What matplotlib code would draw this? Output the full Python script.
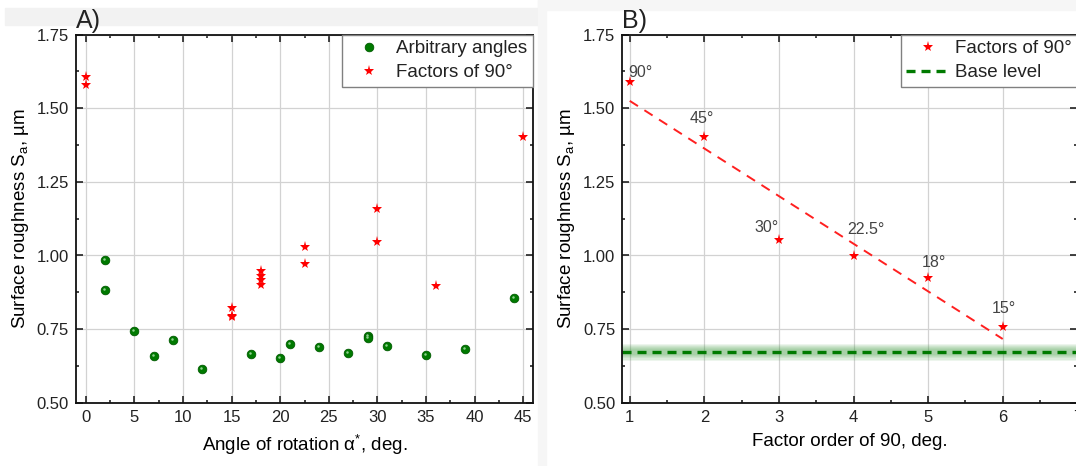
import numpy as np
import matplotlib.pyplot as plt
import matplotlib
from matplotlib.patches import Rectangle
from matplotlib.ticker import MultipleLocator, FormatStrFormatter
from matplotlib.transforms import offset_copy

matplotlib.rcParams.update({
    'font.family': ['Liberation Sans', 'DejaVu Sans'],
    'mathtext.fontset': 'custom',
    'mathtext.rm': 'Liberation Sans',
    'mathtext.it': 'Liberation Sans:italic',
    'lines.scale_dashes': False,
    'text.color': '#222222',
})

# A) arbitrary rotation angles
arb_angle = [2, 2, 5, 7, 9, 12, 17, 20, 21, 24, 27, 29, 29, 31, 35, 39, 44]
arb_sa = [0.984, 0.883, 0.745, 0.660, 0.713, 0.615, 0.666, 0.652, 0.701,
          0.688, 0.670, 0.728, 0.719, 0.691, 0.662, 0.683, 0.856]

# A) rotation angles that are factors of 90 deg
fac_angle = [0, 0, 15, 15, 15, 18, 18, 18, 18, 22.5, 22.5, 30, 30, 36, 45]
fac_sa = [1.605, 1.578, 0.821, 0.796, 0.791, 0.947, 0.930, 0.916, 0.900,
          1.028, 0.972, 1.157, 1.047, 0.898, 1.404]

# B) roughness vs factor order
order = [1, 2, 3, 4, 5, 6]
order_sa = [1.590, 1.404, 1.052, 0.999, 0.923, 0.757]
order_lbl = ['90°', '45°', '30°', '22.5°', '18°', '15°']
lbl_off = [(8, 7), (-2, 13), (-9, 9), (9, 19), (4, 11), (1, 13)]  # points

base_level = 0.672
base_spread = 0.029

W, H = 1076, 466
fig = plt.figure(figsize=(W / 100, H / 100), dpi=100)

# light page background behind the panel headers
fig.patches.append(Rectangle((5 / W, 1 - 25 / H), 535 / W, 17 / H, transform=fig.transFigure,
                             color='#f2f2f2', zorder=-10))
fig.patches.append(Rectangle((538 / W, 0), 8 / W, 1, transform=fig.transFigure,
                             color='#f6f6f6', zorder=-10))
fig.patches.append(Rectangle((538 / W, 1 - 10 / H), 1, 10 / H, transform=fig.transFigure,
                             color='#f6f6f6', zorder=-10))

ax1 = fig.add_axes([76 / W, 63.3 / H, 457 / W, 368 / H])
ax2 = fig.add_axes([622.3 / W, 63.3 / H, 455 / W, 368 / H])


def style_axis(ax, xlim, xmaj, xmin):
    ax.set_xlim(*xlim)
    ax.set_ylim(0.5, 1.75)
    ax.xaxis.set_major_locator(MultipleLocator(xmaj))
    ax.xaxis.set_minor_locator(MultipleLocator(xmin))
    ax.yaxis.set_major_locator(MultipleLocator(0.25))
    ax.yaxis.set_minor_locator(MultipleLocator(0.125))
    ax.yaxis.set_major_formatter(FormatStrFormatter('%.2f'))
    ax.tick_params(which='both', direction='in', top=True, right=True,
                   width=1.1, color='#111111', labelsize=12, labelcolor='#222222')
    ax.tick_params(which='major', length=4.7)
    ax.tick_params(which='minor', length=2.4)
    ax.tick_params(axis='x', pad=5)
    ax.tick_params(axis='y', pad=5)
    ax.grid(True, which='major', color='#d2d2d2', lw=0.9)
    ax.set_axisbelow(True)
    for s in ax.spines.values():
        s.set_linewidth(1.3)
        s.set_color('#111111')
    ax.set_ylabel('Surface roughness S$_{\\mathrm{a}}$, µm', fontsize=13.5, labelpad=4)


def legend(ax, **kw):
    leg = ax.legend(loc='upper right', fontsize=13.5, borderaxespad=0, fancybox=False,
                    framealpha=1, edgecolor='#808080', handlelength=2.3, handletextpad=0.3,
                    borderpad=0.3, labelspacing=0.36, **kw)
    leg.get_frame().set_linewidth(1.0)
    return leg


# ---- A) ----
style_axis(ax1, (-1, 46), 5, 2.5)
ax1.plot(arb_angle, arb_sa, 'o', ms=6.2, color='#007a00', mec='#005a00', mew=0.6,
         label='Arbitrary angles', zorder=3)
hl = offset_copy(ax1.transData, fig=fig, x=-1.0, y=1.0, units='dots')
ax1.plot(arb_angle, arb_sa, 'o', ms=1.8, color='#8fd08f', mew=0, transform=hl, zorder=4)
ax1.plot(fac_angle, fac_sa, '*', ms=8, color='#ff0000', mew=0,
         label='Factors of 90°', zorder=3)
ax1.set_xlabel('Angle of rotation α$^{*}$, deg.', fontsize=13.5, labelpad=6)
legend(ax1)
ax1.text(0.0, 1.018, 'A)', transform=ax1.transAxes, fontsize=18, va='baseline', ha='left')

# ---- B) ----
style_axis(ax2, (0.9, 7.0), 1, 0.5)
for k in range(6):
    ax2.axhspan(base_level - base_spread * (1 - k / 8), base_level + base_spread * (1 - k / 8),
                color='#3a9a3a', alpha=0.09, lw=0, zorder=1)
ax2.axhline(base_level, color='#007a00', lw=2.4, dashes=(6.5, 4.3), label='Base level', zorder=2)

k, b = np.polyfit(order, order_sa, 1)
xf = np.array([order[0], order[-1]])
ax2.plot(xf, k * xf + b, color='#ff2020', lw=1.4, dashes=(7, 5.5), zorder=2)

ax2.plot(order, order_sa, '*', ms=8, color='#ff0000', mew=0, label='Factors of 90°', zorder=3)
for xv, yv, t, off in zip(order, order_sa, order_lbl, lbl_off):
    ax2.annotate(t, (xv, yv), xytext=off, textcoords='offset points', ha='center',
                 va='center', fontsize=11.5, color='#444444')
ax2.set_xlabel('Factor order of 90, deg.', fontsize=13.5, labelpad=6)
h, l = ax2.get_legend_handles_labels()
legend(ax2, handles=[h[1], h[0]], labels=[l[1], l[0]])
ax2.text(0.0, 1.018, 'B)', transform=ax2.transAxes, fontsize=18, va='baseline', ha='left')

fig.savefig('out.png', dpi=100)
